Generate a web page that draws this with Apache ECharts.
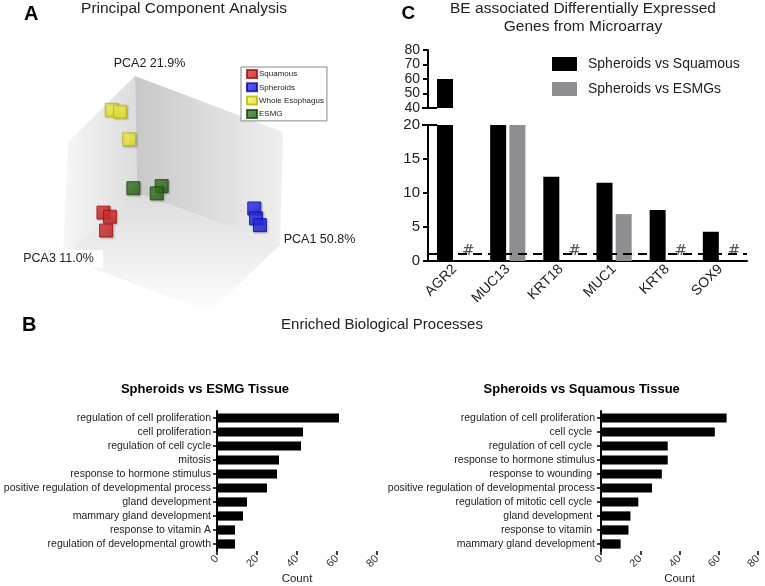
<!DOCTYPE html>
<html>
<head>
<meta charset="utf-8">
<script src="https://cdn.jsdelivr.net/npm/echarts@6/dist/echarts.min.js"></script>
<style>html,body{margin:0;padding:0;background:#fff}#c{width:765px;height:586px}</style>
</head>
<body>
<div id="c"></div>
<script>
// ---------- Panel A: PCA (projected positions, 0-100 plot units) ----------
const pcaSquamous = [[24.4, 41.3], [26.9, 39.7], [25.4, 34.4]];
const pcaSpheroids = [[82.4, 42.9], [83.1, 39.1], [84.6, 36.5]];
const pcaWholeEso = [[27.6, 80.8], [30.8, 80.1], [34.3, 69.5]];
const pcaESMG = [[35.9, 50.7], [46.8, 51.5], [44.9, 48.7]];
const pcaGroups = ['Squamous', 'Spheroids', 'Whole Esophagus', 'ESMG'];

// ---------- Panel C: fold change ----------
const genes = ['AGR2', 'MUC13', 'KRT18', 'MUC1', 'KRT8', 'SOX9'];
const vsSquamous = [60, 20, 12.4, 11.5, 7.5, 4.3];
const vsESMGs = [0, 20, 0, 6.9, 0, 0];
const notSignificant = [true, false, true, false, true, true];
const thresholdLine = 1;
const topTickValues = [40, 50, 60, 70, 80];
const bottomTickValues = [0, 5, 10, 15, 20];

// ---------- Panel B: enriched processes ----------
const esmgTerms = ['regulation of cell proliferation', 'cell proliferation', 'regulation of cell cycle', 'mitosis',
  'response to hormone stimulus', 'positive regulation of developmental process', 'gland development',
  'mammary gland development', 'response to vitamin A', 'regulation of developmental growth'];
const esmgCounts = [61, 43, 42, 31, 30, 25, 15, 13, 9, 9];
const squTerms = ['regulation of cell proliferation', 'cell cycle ', 'regulation of cell cycle ', 'response to hormone stimulus',
  'response to wounding ', 'positive regulation of developmental process', 'regulation of mitotic cell cycle ',
  'gland development ', 'response to vitamin ', 'mammary gland development'];
const squCounts = [64, 58, 34, 34, 31, 26, 19, 15, 14, 10];
const countTicks = [0, 80, 20];

const FONT = "'Liberation Sans', Arial, Helvetica, sans-serif";
const chart = echarts.init(document.getElementById('c'), null, {renderer: 'canvas'});

function cubeStyle(light, dark, border) {
  return {
    color: {type: 'linear', x: 0, y: 0, x2: 1, y2: 1, colorStops: [{offset: 0, color: light}, {offset: 1, color: dark}]},
    borderColor: border, borderWidth: 1, shadowColor: 'rgba(0,0,0,0.25)', shadowBlur: 2, shadowOffsetX: 1, shadowOffsetY: 1
  };
}
const pcaColors = [
  ['#ee3a3a', '#b51616', '#a01010'],
  ['#3a3aff', '#1010c8', '#0a0aa8'],
  ['#ffff66', '#d8d810', '#b8b800'],
  ['#3f8a2a', '#245515', '#1c4510']
];
const pcaData = [pcaSquamous, pcaSpheroids, pcaWholeEso, pcaESMG];

const catAxisCommon = {
  axisLine: {lineStyle: {color: '#000', width: 2}},
  axisTick: {lineStyle: {color: '#000', width: 1.5}, length: 5},
  axisLabel: {color: '#222', fontFamily: FONT},
  splitLine: {show: false}
};

function txt(text, x, y, size, opts) {
  opts = opts || {};
  return {type: 'text', silent: true, z: 10, style: {
    text: text, x: x, y: y, fill: opts.color || '#222',
    font: (opts.bold ? 'bold ' : '') + size + 'px ' + FONT,
    textAlign: opts.align || 'center', textVerticalAlign: 'middle'
  }};
}

const series = [];
pcaGroups.forEach((g, i) => {
  series.push({
    name: g, type: 'scatter', xAxisIndex: 0, yAxisIndex: 0, symbol: 'rect', symbolSize: 13,
    data: pcaData[i], itemStyle: cubeStyle(pcaColors[i][0], pcaColors[i][1], pcaColors[i][2]), z: 3
  });
});
const topMin = topTickValues[0];
// panel C top (broken axis)
series.push({
  name: 'Spheroids vs Squamous', type: 'bar', xAxisIndex: 1, yAxisIndex: 1, barWidth: 16, barGap: '20%',
  data: vsSquamous.map(v => v > topMin ? v : null), itemStyle: {color: '#000'}
});
series.push({
  name: 'Spheroids vs ESMGs', type: 'bar', xAxisIndex: 1, yAxisIndex: 1, barWidth: 16, barGap: '20%',
  data: vsESMGs.map(v => v > topMin ? v : null), itemStyle: {color: '#8e8d92'}
});
// panel C bottom
series.push({
  name: 'Spheroids vs Squamous', type: 'bar', xAxisIndex: 2, yAxisIndex: 2, barWidth: 16, barGap: '20%',
  data: vsSquamous, itemStyle: {color: '#000'}, clip: true
});
series.push({
  name: 'Spheroids vs ESMGs', type: 'bar', xAxisIndex: 2, yAxisIndex: 2, barWidth: 16, barGap: '20%',
  data: vsESMGs, itemStyle: {color: '#8e8d92'}, clip: true,
  label: {show: true, position: 'top', distance: 2, offset: [4, 0], color: '#555', fontSize: 15, fontFamily: "'DejaVu Serif', serif",
    formatter: p => notSignificant[p.dataIndex] ? '#' : ''},
  markLine: {silent: true, symbol: 'none', label: {show: false}, z: 5,
    lineStyle: {color: '#000', width: 2, type: [9, 6]}, data: [{yAxis: thresholdLine}]}
});
// panel B
series.push({type: 'bar', xAxisIndex: 3, yAxisIndex: 3, data: esmgCounts, barCategoryGap: '34%', itemStyle: {color: '#000'}});
series.push({type: 'bar', xAxisIndex: 4, yAxisIndex: 4, data: squCounts, barCategoryGap: '34%', itemStyle: {color: '#000'}});

const countAxis = (gi) => Object.assign({}, catAxisCommon, {gridIndex: gi, type: 'value',
  min: countTicks[0], max: countTicks[1], interval: countTicks[2],
  axisTick: {show: true, length: 4, lineStyle: {color: '#000', width: 1.5}},
  axisLabel: {rotate: 45, fontSize: 11, margin: 6, color: '#333', fontFamily: FONT, showMinLabel: true, showMaxLabel: true},
  name: 'Count', nameLocation: 'middle', nameGap: 22, nameTextStyle: {fontSize: 11.5, color: '#222', fontFamily: FONT}});

const option = {
  animation: false,
  backgroundColor: '#fff',
  textStyle: {fontFamily: FONT},
  grid: [
    {left: 40, top: 60, width: 260, height: 260},
    {left: 428, top: 50, right: 18, height: 58},
    {left: 428, top: 125, right: 18, bottom: 325},
    {left: 217, top: 411, width: 160, height: 143},
    {left: 601, top: 411, width: 157, height: 143}
  ],
  xAxis: [
    {gridIndex: 0, type: 'value', min: 0, max: 100, show: false},
    {gridIndex: 1, type: 'category', data: genes, show: false},
    Object.assign({}, catAxisCommon, {gridIndex: 2, type: 'category', data: genes,
      axisTick: {alignWithLabel: true, length: 5, lineStyle: {color: '#000', width: 2}},
      axisLabel: {rotate: 45, fontSize: 14, margin: 6, color: '#222', fontFamily: FONT, interval: 0}}),
    countAxis(3),
    countAxis(4)
  ],
  yAxis: [
    {gridIndex: 0, type: 'value', min: 0, max: 100, show: false},
    Object.assign({}, catAxisCommon, {gridIndex: 1, type: 'value', min: topTickValues[0], max: topTickValues[topTickValues.length - 1],
      interval: 10,
      axisLine: {show: true, lineStyle: {color: '#000', width: 2}},
      axisTick: {show: true, length: 5, lineStyle: {color: '#000', width: 2}, customValues: topTickValues},
      axisLabel: {fontSize: 14, lineHeight: 11, margin: 8, color: '#222', fontFamily: FONT, customValues: topTickValues,
        showMinLabel: true, showMaxLabel: true, hideOverlap: false}}),
    Object.assign({}, catAxisCommon, {gridIndex: 2, type: 'value', min: bottomTickValues[0], max: bottomTickValues[bottomTickValues.length - 1],
      interval: 5,
      axisLine: {show: true, lineStyle: {color: '#000', width: 2}},
      axisTick: {show: true, length: 5, lineStyle: {color: '#000', width: 2}, customValues: bottomTickValues},
      axisLabel: {fontSize: 15, margin: 8, color: '#222', fontFamily: FONT, customValues: bottomTickValues,
        showMinLabel: true, showMaxLabel: true}}),
    Object.assign({}, catAxisCommon, {gridIndex: 3, type: 'category', data: esmgTerms, inverse: true,
      axisTick: {show: true, length: 4, lineStyle: {color: '#000', width: 1.5}, alignWithLabel: true},
      axisLabel: {fontSize: 10.5, margin: 6, color: '#222', fontFamily: FONT, interval: 0}}),
    Object.assign({}, catAxisCommon, {gridIndex: 4, type: 'category', data: squTerms, inverse: true,
      axisTick: {show: true, length: 4, lineStyle: {color: '#000', width: 1.5}, alignWithLabel: true},
      axisLabel: {fontSize: 10.5, margin: 6, color: '#222', fontFamily: FONT, interval: 0}})
  ],
  legend: [
    {data: pcaGroups, left: 241, top: 67, orient: 'vertical', icon: 'rect', itemWidth: 10, itemHeight: 8, itemGap: 3.3,
      backgroundColor: '#fff', borderColor: '#888', borderWidth: 1, padding: [2, 3, 2, 5],
      textStyle: {fontSize: 8, color: '#222', fontFamily: FONT, padding: [0, 0, 0, -3]}, selectedMode: false},
    {data: ['Spheroids vs Squamous', 'Spheroids vs ESMGs'], left: 552, top: 57, orient: 'vertical', icon: 'rect',
      itemWidth: 25, itemHeight: 14, itemGap: 11, padding: 0, selectedMode: false,
      textStyle: {fontSize: 14, color: '#222', fontFamily: FONT, padding: [0, 0, 0, 6]}}
  ],
  graphic: [
    // 3D box backdrop of PCA
    {type: 'polygon', silent: true, z: -10, shape: {points: [[68, 142], [135, 76], [137, 193], [63, 257]]},
      style: {fill: {type: 'linear', x: 0, y: 0, x2: 1, y2: 0, colorStops: [{offset: 0, color: '#f7f7f7'}, {offset: 1, color: '#dcdcdc'}]}}},
    {type: 'polygon', silent: true, z: -10, shape: {points: [[135, 76], [283, 132], [280, 245], [137, 193]]},
      style: {fill: {type: 'linear', x: 0, y: 0, x2: 1, y2: 0, colorStops: [{offset: 0, color: '#c8c8c8'}, {offset: 1, color: '#efefef'}]}}},
    {type: 'polygon', silent: true, z: -10, shape: {points: [[63, 257], [137, 193], [280, 245], [210, 312]]},
      style: {fill: {type: 'linear', x: 0, y: 0, x2: 0, y2: 1, colorStops: [{offset: 0, color: '#dcdcdc'}, {offset: 1, color: '#fefefe'}]}}},
    {type: 'rect', silent: true, z: -5, shape: {x: 20, y: 250, width: 83, height: 18}, style: {fill: '#fff'}},
    txt('A', 24, 14, 20, {bold: true, align: 'left', color: '#000'}),
    txt('Principal Component Analysis', 184, 9, 15.5),
    txt('PCA2 21.9%', 149.5, 64, 12.5),
    txt('PCA1 50.8%', 319.5, 240, 12.5),
    txt('PCA3 11.0%', 58.5, 259, 12.5),
    txt('C', 401.5, 13.5, 19, {bold: true, align: 'left', color: '#000'}),
    txt('BE associated Differentially Expressed', 583, 8.5, 15.5),
    txt('Genes from Microarray', 583, 27, 15.5),
    txt('B', 22, 325, 20, {bold: true, align: 'left', color: '#000'}),
    txt('Enriched Biological Processes', 382, 325, 15),
    txt('Spheroids vs ESMG Tissue', 205, 389, 13, {bold: true, color: '#000'}),
    txt('Spheroids vs Squamous Tissue', 581.7, 389, 13, {bold: true, color: '#000'})
  ],
  series: series
};
chart.setOption(option);

// axis-break tick marks crossing the axis at 40 (top) and 20 (bottom)
const pTop = chart.convertToPixel({xAxisIndex: 1, yAxisIndex: 1}, [0, topTickValues[0]]);
const pBot = chart.convertToPixel({xAxisIndex: 2, yAxisIndex: 2}, [0, bottomTickValues[bottomTickValues.length - 1]]);
const axisX = 428;
chart.setOption({graphic: option.graphic.concat([
  {type: 'line', silent: true, z: 10, shape: {x1: axisX - 6, y1: pTop[1], x2: axisX + 9, y2: pTop[1]}, style: {stroke: '#000', lineWidth: 2}},
  {type: 'line', silent: true, z: 10, shape: {x1: axisX - 6, y1: pBot[1], x2: axisX + 9, y2: pBot[1]}, style: {stroke: '#000', lineWidth: 2}}
])}, {replaceMerge: ['graphic']});
</script>
</body>
</html>
